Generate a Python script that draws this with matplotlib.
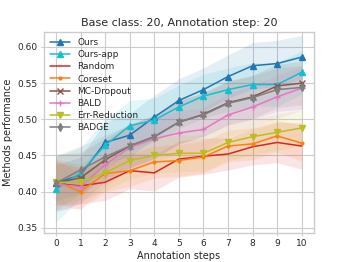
import numpy as np
import matplotlib
matplotlib.use("Agg")
import matplotlib.pyplot as plt

# Annotation steps
steps = np.arange(11)

# mean performance per method
ours = [0.412, 0.423, 0.468, 0.478, 0.503, 0.526, 0.541, 0.559, 0.574, 0.577, 0.586]
ours_app = [0.403, 0.426, 0.464, 0.491, 0.499, 0.517, 0.532, 0.541, 0.548, 0.548, 0.565]
random_ = [0.411, 0.408, 0.413, 0.429, 0.426, 0.445, 0.449, 0.452, 0.462, 0.468, 0.463]
coreset = [0.414, 0.400, 0.425, 0.429, 0.441, 0.443, 0.448, 0.463, 0.466, 0.477, 0.467]
mc_dropout = [0.412, 0.419, 0.444, 0.463, 0.476, 0.496, 0.507, 0.523, 0.531, 0.546, 0.550]
bald = [0.410, 0.407, 0.437, 0.461, 0.473, 0.481, 0.486, 0.506, 0.517, 0.531, 0.543]
err_red = [0.413, 0.413, 0.426, 0.443, 0.450, 0.453, 0.453, 0.468, 0.476, 0.482, 0.488]
badge = [0.412, 0.430, 0.448, 0.463, 0.476, 0.496, 0.506, 0.522, 0.530, 0.541, 0.544]

# spread (shaded band half-width)
ours_sd = [0.025, 0.025, 0.028, 0.030, 0.030, 0.030, 0.030, 0.030, 0.032, 0.032, 0.030]
ours_app_sd = [0.045, 0.035, 0.035, 0.035, 0.030, 0.030, 0.030, 0.030, 0.030, 0.030, 0.030]
random_sd = [0.030, 0.025, 0.025, 0.025, 0.025, 0.025, 0.025, 0.022, 0.025, 0.028, 0.032]
coreset_sd = [0.030, 0.025, 0.025, 0.022, 0.022, 0.022, 0.022, 0.022, 0.022, 0.022, 0.025]
mc_dropout_sd = [0.040, 0.035, 0.030, 0.030, 0.030, 0.030, 0.030, 0.030, 0.030, 0.030, 0.030]
bald_sd = [0.035, 0.030, 0.030, 0.030, 0.030, 0.030, 0.030, 0.030, 0.030, 0.030, 0.030]
err_red_sd = [0.030, 0.025, 0.025, 0.025, 0.025, 0.025, 0.025, 0.025, 0.025, 0.025, 0.025]
badge_sd = [0.038, 0.033, 0.030, 0.030, 0.030, 0.030, 0.030, 0.030, 0.030, 0.030, 0.030]

labels = ["Ours", "Ours-app", "Random", "Coreset", "MC-Dropout", "BALD", "Err-Reduction", "BADGE"]
means = [ours, ours_app, random_, coreset, mc_dropout, bald, err_red, badge]
sds = [ours_sd, ours_app_sd, random_sd, coreset_sd, mc_dropout_sd, bald_sd, err_red_sd, badge_sd]
colors = ["tab:blue", "tab:cyan", "tab:red", "tab:orange", "tab:brown", "tab:pink", "tab:olive", "tab:gray"]
markers = ["^", "^", None, ".", "x", "+", "v", "d"]

plt.style.use("seaborn-v0_8-whitegrid")
plt.rcParams["font.family"] = "DejaVu Sans"

fig = plt.figure(figsize=(3.49, 2.62), dpi=100)
ax = fig.add_axes([0.125, 0.111, 0.775, 0.768])

for m, s, c in zip(means, sds, colors):
    m = np.array(m)
    s = np.array(s)
    ax.fill_between(steps, m - s, m + s, color=c, alpha=0.12, linewidth=0)

for m, lab, c, mk in zip(means, labels, colors, markers):
    ax.plot(steps, m, color=c, marker=mk, markersize=4, linewidth=1.1, label=lab)

ax.set_xlim(-0.5, 10.5)
ax.set_ylim(0.343, 0.621)
ax.set_xticks(steps)
ax.set_yticks([0.35, 0.40, 0.45, 0.50, 0.55, 0.60])
ax.tick_params(labelsize=6.5, length=2.5, width=0.8, color="0.8", pad=2)
ax.set_xlabel("Annotation steps", fontsize=7, labelpad=2)
ax.set_ylabel("Methods performance", fontsize=7, labelpad=3)
ax.set_title("Base class: 20, Annotation step: 20", fontsize=8, pad=4)
ax.legend(loc="upper left", fontsize=6.5, labelspacing=0.35, handlelength=2.2,
          frameon=False, borderaxespad=0.3)

fig.savefig("out.png", dpi=100)
